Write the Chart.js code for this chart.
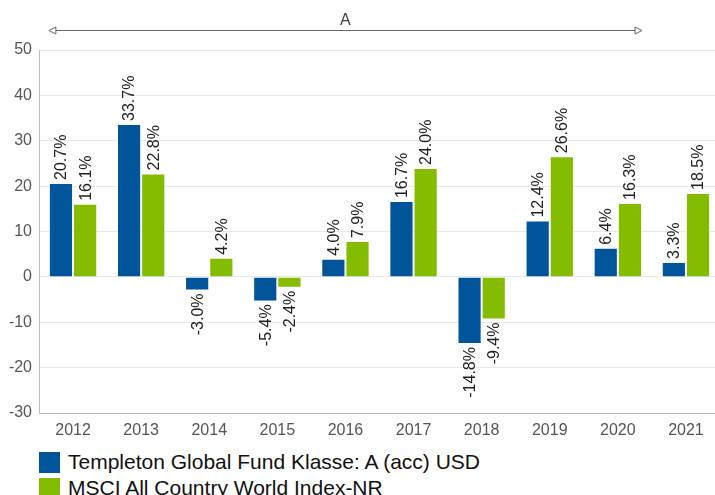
<!DOCTYPE html>
<html>
<head>
<meta charset="utf-8">
<script src="https://cdn.jsdelivr.net/npm/chart.js@4"></script>
<style>
  body{margin:0;background:#fff;font-family:"Liberation Sans",Arial,sans-serif;}
  #wrap{width:715px;height:495px;overflow:hidden;position:relative;}
  #box{width:720px;height:442px;}
  #legend{margin:7px 0 0 39px;}
  .item{display:flex;align-items:center;height:26px;font-size:21px;color:#111;white-space:nowrap;}
  .sw{width:21px;height:21px;margin-right:8px;flex:none;}
</style>
</head>
<body>
<div id="wrap">
  <div id="box"><canvas id="chart"></canvas></div>
  <div id="legend"></div>
</div>
<script>
// DATA
const years=["2012","2013","2014","2015","2016","2017","2018","2019","2020","2021"];
const fund=[20.7,33.7,-3.0,-5.4,4.0,16.7,-14.8,12.4,6.4,3.3];
const msci=[16.1,22.8,4.2,-2.4,7.9,24.0,-9.4,26.6,16.3,18.5];
const names=["Templeton Global Fund Klasse: A (acc) USD","MSCI All Country World Index-NR"];
const colors=["#00559a","#84bd00"];
const periodLabel="A";
const periodFrom=0, periodTo=8; // share class period, 2012..2020

const font="'Liberation Sans', Arial, sans-serif";

// bar value labels, rotated
const valueLabels={
  id:"valueLabels",
  afterDatasetsDraw(chart){
    const ctx=chart.ctx;
    ctx.save();
    ctx.font="16px "+font;
    ctx.fillStyle="#222";
    ctx.textBaseline="middle";
    chart.data.datasets.forEach((ds,i)=>{
      chart.getDatasetMeta(i).data.forEach((bar,j)=>{
        let v=ds.data[j];
        let txt=v.toFixed(1)+"%";
        ctx.save();
        if(v>=0){
          ctx.translate(bar.x,bar.y-3);
          ctx.rotate(-Math.PI/2);
          ctx.textAlign="left";
        } else {
          ctx.translate(bar.x,bar.y+3);
          ctx.rotate(-Math.PI/2);
          ctx.textAlign="right";
        }
        ctx.fillText(txt,0,1);
        ctx.restore();
      });
    });
    ctx.restore();
  }
};

// period arrow on top
const periodArrow={
  id:"periodArrow",
  afterDraw(chart){
    const ctx=chart.ctx;
    let a=chart.getDatasetMeta(0).data[periodFrom];
    let b=chart.getDatasetMeta(1).data[periodTo];
    let x1=a.x-a.width/2, x2=b.x+b.width/2;
    let y=30;
    ctx.save();
    ctx.strokeStyle="#666";
    ctx.lineWidth=1;
    ctx.beginPath();
    ctx.moveTo(x1+7,y+0.5);ctx.lineTo(x2-7,y+0.5);
    ctx.stroke();
    ctx.fillStyle="#fff";
    ctx.beginPath();
    ctx.moveTo(x1,y+0.5);ctx.lineTo(x1+7,y-3);ctx.lineTo(x1+7,y+4);ctx.closePath();
    ctx.fill();ctx.stroke();
    ctx.beginPath();
    ctx.moveTo(x2,y+0.5);ctx.lineTo(x2-7,y-3);ctx.lineTo(x2-7,y+4);ctx.closePath();
    ctx.fill();ctx.stroke();
    ctx.font="16px "+font;
    ctx.fillStyle="#444";
    ctx.textAlign="center";
    ctx.textBaseline="alphabetic";
    ctx.fillText(periodLabel,(x1+x2)/2,25);
    ctx.restore();
  }
};

new Chart(document.getElementById("chart"),{
  type:"bar",
  data:{
    labels:years,
    datasets:[
      {label:names[0],data:fund,backgroundColor:colors[0],borderColor:"rgba(255,255,255,0.45)",borderWidth:1},
      {label:names[1],data:msci,backgroundColor:colors[1],borderColor:"rgba(255,255,255,0.45)",borderWidth:1}
    ]
  },
  options:{
    responsive:true,
    maintainAspectRatio:false,
    animation:false,
    layout:{padding:{top:50,right:0,bottom:0,left:0}},
    datasets:{bar:{categoryPercentage:0.71,barPercentage:1}},
    plugins:{legend:{display:false},tooltip:{enabled:false}},
    scales:{
      x:{
        grid:{display:false,drawTicks:false},
        border:{color:"#bbb"},
        ticks:{color:"#555",font:{family:font,size:16},padding:8,maxRotation:0},
        afterFit(s){s.height=29;}
      },
      y:{
        min:-30,max:50,
        grid:{color:"#e8e8e8",drawTicks:false},
        border:{color:"#bbb"},
        ticks:{stepSize:10,color:"#555",font:{family:font,size:16},padding:7},
        afterFit(s){s.width=39;}
      }
    }
  },
  plugins:[valueLabels,periodArrow]
});

// LEGEND
let lg=document.getElementById("legend");
names.forEach((n,i)=>{
  lg.innerHTML+=`<div class="item"><span class="sw" style="background:${colors[i]}"></span>${n}</div>`;
});
</script>
</body>
</html>
